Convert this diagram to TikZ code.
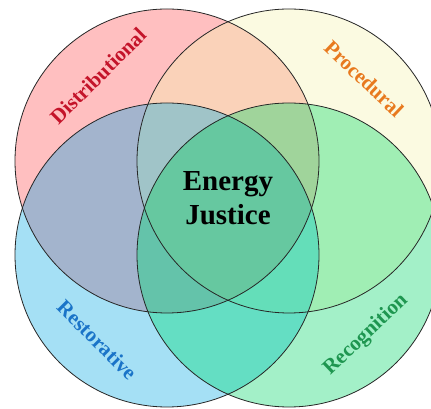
\documentclass[tikz,border=0pt]{standalone}
\usepackage{fontspec}
\setmainfont{Liberation Serif}
\definecolor{cR}{HTML}{FFBFC0}
\definecolor{cY}{HTML}{FBFAE1}
\definecolor{cB}{HTML}{A5E0F5}
\definecolor{cG}{HTML}{A3F0C8}
\definecolor{cRY}{HTML}{FAD2B9}
\definecolor{cRB}{HTML}{A3B4CD}
\definecolor{cYG}{HTML}{A0EEB4}
\definecolor{cBG}{HTML}{64DEC3}
\definecolor{cRYB}{HTML}{A0C4C8}
\definecolor{cRYG}{HTML}{A0D49B}
\definecolor{cRBG}{HTML}{64C3AA}
\definecolor{cYBG}{HTML}{64DEB9}
\definecolor{cAll}{HTML}{66C8A0}
\definecolor{tR}{HTML}{C4142A}
\definecolor{tY}{HTML}{E8791E}
\definecolor{tB}{HTML}{1A74C8}
\definecolor{tG}{HTML}{1E9650}
\def\cirR{(167pt,248pt) circle (152pt)}
\def\cirY{(289pt,248pt) circle (152pt)}
\def\cirB{(167pt,154pt) circle (152pt)}
\def\cirG{(289pt,154pt) circle (152pt)}
\tikzset{
  rim/.style={draw=black!85, line width=0.8pt},
  lbl/.style={font=\fontsize{21}{25}\selectfont\bfseries, inner sep=0pt},
  title/.style={font=\fontsize{29}{33.5}\selectfont\bfseries, align=center, inner sep=0pt}
}
\begin{document}
\begin{tikzpicture}
\clip (0,0) rectangle (431pt,409pt);
\fill[white] (0,0) rectangle (431pt,409pt);
% single circles
\fill[cR] \cirR;
\fill[cY] \cirY;
\fill[cB] \cirB;
\fill[cG] \cirG;
% pairs
\begin{scope}\clip \cirR; \fill[cRY] \cirY; \end{scope}
\begin{scope}\clip \cirR; \fill[cRB] \cirB; \end{scope}
\begin{scope}\clip \cirY; \fill[cYG] \cirG; \end{scope}
\begin{scope}\clip \cirB; \fill[cBG] \cirG; \end{scope}
% triples
\begin{scope}\clip \cirR; \clip \cirY; \fill[cRYB] \cirB; \end{scope}
\begin{scope}\clip \cirR; \clip \cirY; \fill[cRYG] \cirG; \end{scope}
\begin{scope}\clip \cirR; \clip \cirB; \fill[cRBG] \cirG; \end{scope}
\begin{scope}\clip \cirY; \clip \cirB; \fill[cYBG] \cirG; \end{scope}
% all four
\begin{scope}\clip \cirR; \clip \cirY; \clip \cirB; \fill[cAll] \cirG; \end{scope}
% rims
\draw[rim] \cirR;
\draw[rim] \cirY;
\draw[rim] \cirB;
\draw[rim] \cirG;
% labels
\node[lbl, text=tR, rotate=45] (dist) at (98pt,333pt) {Distributional};
\node[lbl, text=tY, rotate=-43.5] (proc) at (364pt,330pt) {Procedural};
\node[lbl, text=tB, rotate=-45] (rest) at (97pt,69pt) {Restorative};
\node[lbl, text=tG, rotate=43.5] (reco) at (366pt,74pt) {Recognition};
\node[title] (ej) at (228pt,211pt) {Energy\\Justice};
\end{tikzpicture}
\end{document}
